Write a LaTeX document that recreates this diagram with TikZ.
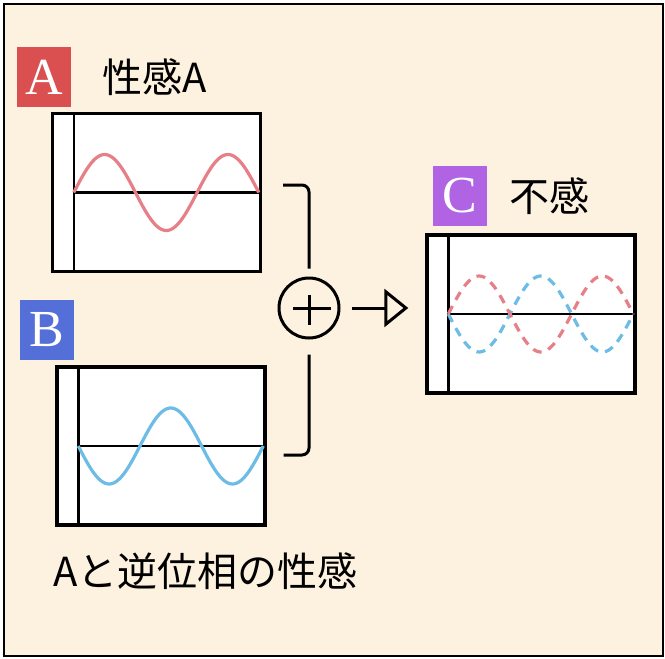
\documentclass[tikz,border=0pt]{standalone}
\usepackage{fontspec}
\setmainfont{Liberation Serif}
\newfontfamily\jpfont{Noto Sans CJK JP}
\usetikzlibrary{arrows.meta,positioning}
\definecolor{bgcream}{HTML}{FDF1E0}
\definecolor{tagred}{HTML}{DA5050}
\definecolor{tagblue}{HTML}{5470D8}
\definecolor{tagpurple}{HTML}{B063E2}
\definecolor{wavered}{HTML}{E67F87}
\definecolor{waveblue}{HTML}{6DBCE5}

\begin{document}
\begin{tikzpicture}[x=1pt,y=-1pt,
 >={Triangle[open,length=24pt,width=38pt]},
 tag/.style={minimum width=54pt,minimum height=60pt,inner sep=0pt,text=white,font=\fontsize{52}{52}\selectfont},
 jptext/.style={inner sep=0pt,font=\jpfont\fontsize{40}{40}\selectfont},
 panel/.style={draw,fill=white,line width=3.4pt,minimum width=208pt,minimum height=158pt,inner sep=0pt},
 axisline/.style={line width=2.4pt},
 sinewave/.style={line width=3.2pt},
 dashwave/.style={line width=3.2pt,dash pattern=on 9pt off 7pt},
 link/.style={line width=3pt,rounded corners=7pt}
]
\useasboundingbox (0,0) rectangle (665,659);
\draw[line width=2.8pt,fill=bgcream] (4,4) rectangle (663,656);

% input A
\node[tag,fill=tagred] (tagA) at (44,77) {A};
\node[jptext,right=31pt of tagA] (nameA) {性感A};
\node[panel] (pA) at (156.5,192.5) {};

% input B
\node[tag,fill=tagblue] (tagB) at (47,330) {B};
\node[panel] (pB) at (161,446) {};
\node[jptext,anchor=west] (nameB) at (53,571) {Aと逆位相の性感};

% sum and output C
\node[draw,circle,line width=3pt,minimum size=60pt] (plus) at (309,308) {};
\node[panel] (pC) at (531,314) {};
\node[tag,fill=tagpurple] (tagC) at (460,196) {C};
\node[jptext,right=22pt of tagC] (nameC) {不感};

\foreach \p in {pA,pB,pC}{
 \draw[axisline] ([xshift=23pt]\p.north west) -- ([xshift=23pt]\p.south west);
 \draw[axisline] ([xshift=23pt]\p.west) -- (\p.east);
}

\begin{scope}[shift={(pA.west)}]
 \draw[sinewave,wavered] plot[domain=0:540,samples=90] ({23+\x/540*185},{-38*sin(\x)});
\end{scope}
\begin{scope}[shift={(pB.west)}]
 \draw[sinewave,waveblue] plot[domain=0:540,samples=90] ({23+\x/540*185},{38*sin(\x)});
\end{scope}
\begin{scope}[shift={(pC.west)}]
 \draw[dashwave,waveblue] plot[domain=0:540,samples=90] ({23+\x/540*185},{38*sin(\x)});
 \draw[dashwave,wavered] plot[domain=0:540,samples=90] ({23+\x/540*185},{-38*sin(\x)});
\end{scope}

\draw[line width=3pt] ([xshift=-16pt]plus.center) -- ([xshift=22pt]plus.center);
\draw[line width=3pt] ([yshift=13pt]plus.center) -- ([yshift=-17pt]plus.center);

\draw[link] ([xshift=21pt,yshift=7.5pt]pA.east) -| ([yshift=8pt]plus.north);
\draw[link] ([yshift=-15pt]plus.south) |- ([xshift=17pt,yshift=-9pt]pB.east);
\draw[line width=3pt,->,shorten <=11pt,shorten >=17pt] (plus.east) -- (plus.east -| pC.west);
\end{tikzpicture}
\end{document}
